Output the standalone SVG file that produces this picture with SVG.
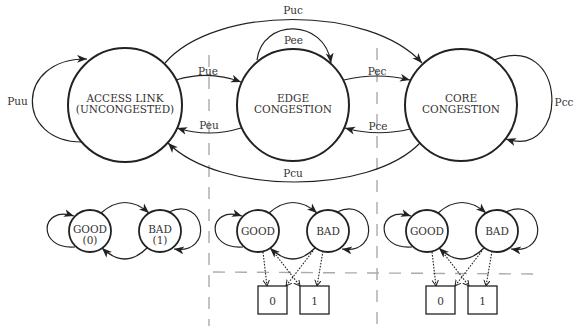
<svg xmlns="http://www.w3.org/2000/svg" width="574" height="326" viewBox="0 0 574 326">
<defs>
<marker id="ah" markerUnits="userSpaceOnUse" markerWidth="11" markerHeight="9" refX="10" refY="4" orient="auto">
<path d="M0,0 L10,4 L0,8 L2.8,4 z" fill="#222"/>
</marker>
<marker id="oh" markerUnits="userSpaceOnUse" markerWidth="8" markerHeight="8" refX="6" refY="3.2" orient="auto">
<path d="M0,0 L6,3.2 L0,6.4" fill="none" stroke="#222" stroke-width="1"/>
</marker>
</defs>
<style>
.big{fill:#fff;stroke:#222;stroke-width:2}
.sm{fill:#fff;stroke:#222;stroke-width:1.8}
.box{fill:#fff;stroke:#222;stroke-width:1.3}
.e{fill:none;stroke:#222;stroke-width:1.2;marker-end:url(#ah)}
.d{fill:none;stroke:#222;stroke-width:1.1;stroke-dasharray:1.6 1.4;marker-end:url(#oh)}
.g{fill:none;stroke:#aaa;stroke-width:1.4;stroke-dasharray:12 10}
text{font-family:"DejaVu Serif","Liberation Serif",serif;font-size:10.5px;fill:#333;text-anchor:middle}
</style>
<rect width="574" height="326" fill="#fff"/>
<g id="guides">
<line class="g" x1="209" y1="55" x2="209" y2="326"/>
<line class="g" x1="377" y1="48" x2="377" y2="326"/>
<line class="g" x1="213" y1="272" x2="533" y2="274"/>
</g>
<g id="connectors">
<path class="e" d="M82,142 C15,142 15,58 87,59"/>
<path class="e" d="M176,80 Q209,70 241,82"/>
<path class="e" d="M241,128 Q209,138 177,128"/>
<path class="e" d="M165,63 C215,5 370,5 422,63"/>
<path class="e" d="M420,143 C370,195 220,195 168,143"/>
<path class="e" d="M257,60 C262,18 325,18 331,63"/>
<path class="e" d="M344,80 Q377,72 410,80"/>
<path class="e" d="M410,129 Q377,137 345,128"/>
<path class="e" d="M494,60 C568,30 570,160 506,139"/>
<path class="e" d="M75,247 C37,250 39,205 74,216"/>
<path class="e" d="M169,212 C205,195 215,255 174,249"/>
<path class="e" d="M101,213 Q125,192 149,213"/>
<path class="e" d="M147,248 Q125,270 102,248"/>
<path class="e" d="M243,247 C205,250 207,205 242,216"/>
<path class="e" d="M337,212 C373,195 383,255 342,249"/>
<path class="e" d="M269,213 Q293,192 317,213"/>
<path class="e" d="M315,248 Q293,270 270,248"/>
<path class="d" d="M263,252 L267,286"/>
<path class="d" d="M272,250 L300,286"/>
<path class="d" d="M313,251 L286,286"/>
<path class="d" d="M323,251 L317,286"/>
<path class="e" d="M412,247 C374,250 376,205 411,216"/>
<path class="e" d="M506,212 C542,195 552,255 511,249"/>
<path class="e" d="M438,213 Q462,192 486,213"/>
<path class="e" d="M484,248 Q462,270 439,248"/>
<path class="d" d="M432,252 L436,286"/>
<path class="d" d="M441,250 L469,286"/>
<path class="d" d="M482,251 L455,286"/>
<path class="d" d="M492,251 L486,286"/>
</g>
<g id="labels">
<text x="17.5" y="105">Puu</text>
<text x="208" y="75">Pue</text>
<text x="209" y="129">Peu</text>
<text x="293" y="14">Puc</text>
<text x="293.5" y="44">Pee</text>
<text x="377" y="75">Pec</text>
<text x="378" y="130">Pce</text>
<text x="293" y="177">Pcu</text>
<text x="564" y="106">Pcc</text>
</g>
<g id="access"><circle class="big" cx="125" cy="105" r="57"/><text x="125" y="102">ACCESS LINK</text><text x="125" y="113">(UNCONGESTED)</text></g>
<g id="edge"><circle class="big" cx="293" cy="105" r="56"/><text x="293" y="102">EDGE</text><text x="293" y="113">CONGESTION</text></g>
<g id="core"><circle class="big" cx="461" cy="105" r="56"/><text x="461" y="102">CORE</text><text x="461" y="113">CONGESTION</text></g>
<g id="good-left"><circle class="sm" cx="90" cy="231" r="21"/><text x="90" y="232.5">GOOD</text><text x="90" y="244">(0)</text></g>
<g id="bad-left"><circle class="sm" cx="160" cy="231" r="21"/><text x="160" y="232.5">BAD</text><text x="160" y="244">(1)</text></g>
<g id="good-mid"><circle class="sm" cx="258" cy="231" r="21"/><text x="258" y="235">GOOD</text></g>
<g id="bad-mid"><circle class="sm" cx="328" cy="231" r="21"/><text x="328" y="235">BAD</text></g>
<g id="box0-mid"><rect class="box" x="258" y="286" width="29" height="28"/><text x="272.5" y="305">0</text></g>
<g id="box1-mid"><rect class="box" x="300" y="286" width="29" height="28"/><text x="314.5" y="305">1</text></g>
<g id="good-right"><circle class="sm" cx="427" cy="231" r="21"/><text x="427" y="235">GOOD</text></g>
<g id="bad-right"><circle class="sm" cx="497" cy="231" r="21"/><text x="497" y="235">BAD</text></g>
<g id="box0-right"><rect class="box" x="426" y="286" width="29" height="28"/><text x="440.5" y="305">0</text></g>
<g id="box1-right"><rect class="box" x="468" y="286" width="29" height="28"/><text x="482.5" y="305">1</text></g>
</svg>
